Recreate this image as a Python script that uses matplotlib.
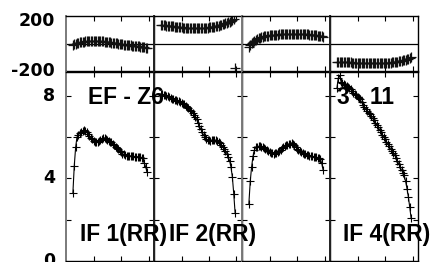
import matplotlib
matplotlib.use('Agg')
import matplotlib.pyplot as plt

# ---- data ----
chans = list(range(5, 60))

amp_if1 = [3.28, 4.59, 5.50, 6.00, 6.10,
           6.18, 6.24, 6.30, 6.33, 6.28,
           6.22, 6.15, 6.05, 5.97, 5.90,
           5.82, 5.78, 5.76, 5.75, 5.80,
           5.86, 5.90, 5.95, 5.96, 5.92,
           5.86, 5.82, 5.78, 5.74, 5.68,
           5.60, 5.54, 5.49, 5.42, 5.33,
           5.27, 5.20, 5.16, 5.13, 5.10,
           5.10, 5.08, 5.09, 5.07, 5.06,
           5.05, 5.05, 5.04, 5.02, 5.03,
           5.00, 4.98, 4.75, 4.53, 4.30]
amp_if2 = [8.08, 8.06, 8.04, 8.02, 8.00,
           7.98, 7.94, 7.90, 7.86, 7.84,
           7.80, 7.78, 7.76, 7.74, 7.70,
           7.65, 7.62, 7.58, 7.52, 7.46,
           7.40, 7.32, 7.25, 7.18, 7.08,
           6.98, 6.85, 6.68, 6.52, 6.38,
           6.24, 6.10, 5.98, 5.90, 5.86,
           5.84, 5.83, 5.85, 5.87, 5.86,
           5.84, 5.80, 5.75, 5.70, 5.62,
           5.52, 5.42, 5.32, 5.20, 5.05,
           4.85, 4.54, 4.06, 3.25, 2.31]
amp_if3 = [2.78, 3.86, 4.56, 5.07, 5.36,
           5.50, 5.53, 5.55, 5.56, 5.54,
           5.50, 5.46, 5.42, 5.37, 5.32,
           5.28, 5.24, 5.22, 5.20, 5.21,
           5.24, 5.28, 5.32, 5.38, 5.45,
           5.52, 5.57, 5.60, 5.63, 5.65,
           5.68, 5.72, 5.68, 5.60, 5.52,
           5.44, 5.36, 5.30, 5.26, 5.23,
           5.20, 5.18, 5.15, 5.12, 5.10,
           5.08, 5.06, 5.05, 5.04, 5.02,
           5.00, 4.97, 4.95, 4.72, 4.40]
amp_if4 = [8.35, 8.85, 8.98, 8.68, 8.60,
           8.56, 8.52, 8.49, 8.42, 8.36,
           8.30, 8.22, 8.14, 8.09, 8.02,
           7.95, 7.89, 7.82, 7.68, 7.55,
           7.44, 7.35, 7.26, 7.18, 7.10,
           7.00, 6.90, 6.80, 6.70, 6.58,
           6.48, 6.36, 6.25, 6.12, 6.00,
           5.90, 5.78, 5.68, 5.56, 5.42,
           5.33, 5.22, 5.12, 5.00, 4.85,
           4.70, 4.55, 4.40, 4.28, 4.14,
           3.85, 3.50, 3.10, 2.60, 2.06]

phase_if1 = [-9, -5, -2, 2, 6,
             10, 12, 14, 16, 17,
             19, 20, 21, 21, 22,
             22, 22, 22, 21, 21,
             20, 19, 18, 16, 15,
             13, 12, 10, 9, 7,
             5, 4, 2, 1, -1,
             -2, -4, -6, -7, -9,
             -10, -11, -12, -13, -14,
             -15, -16, -18, -19, -21,
             -23, -25, -27, -30, -33]
phase_if2 = [137, 135, 134, 132, 131,
             130, 129, 128, 126, 125,
             124, 123, 122, 120, 119,
             118, 117, 116, 115, 114,
             113, 112, 112, 111, 111,
             111, 111, 112, 112, 113,
             113, 114, 115, 116, 117,
             118, 119, 121, 122, 124,
             126, 128, 130, 133, 136,
             139, 143, 147, 151, 155,
             160, 165, 170, 176, -172]
phase_if3 = [-21, -8, 3, 13, 21,
             28, 34, 39, 44, 48,
             51, 54, 56, 58, 59,
             61, 62, 63, 64, 65,
             66, 66, 67, 68, 68,
             69, 69, 70, 70, 70,
             70, 70, 70, 70, 70,
             70, 69, 69, 69, 69,
             68, 68, 68, 67, 66,
             65, 64, 63, 62, 61,
             59, 58, 56, 54, 51]
phase_if4 = [-130, -131, -131, -132, -132,
             -133, -133, -134, -134, -135,
             -135, -136, -136, -137, -137,
             -138, -138, -138, -139, -139,
             -139, -140, -140, -140, -140,
             -141, -141, -141, -141, -141,
             -141, -141, -140, -140, -140,
             -139, -139, -138, -137, -136,
             -135, -134, -132, -131, -129,
             -127, -125, -122, -120, -117,
             -114, -111, -107, -103, -99]

x_ticks = [20, 40, 60]
phase_labels = [200, -200]
amp_ticks = [2, 4, 6, 8]
amp_labels = [8, 4, 0]
panel_titles = ['IF 1(RR)', 'IF 2(RR)', '', 'IF 4(RR)']
baseline_left = 'EF - Z6'
baseline_right = '3 - 11'

amps = [amp_if1, amp_if2, amp_if3, amp_if4]
phases = [phase_if1, phase_if2, phase_if3, phase_if4]

# ---- layout ----
W, H = 432, 262
fig = plt.figure(figsize=(W / 100, H / 100), dpi=100)


def fx(px):
    return px / W


def fy(py):
    return 1 - py / H


left_colors = ['#7a7a7a', '#222222', '#7a7a7a', '#222222']
tick_font = dict(family='DejaVu Sans', fontweight='bold', fontsize=12.5)
lab_font = dict(family='Liberation Sans', fontweight='bold', fontsize=16.4)

for i in range(4):
    x0 = 66 + 88 * i
    axp = fig.add_axes([fx(x0), fy(71.5), 88 / W, 55.5 / H])
    axa = fig.add_axes([fx(x0), fy(261), 88 / W, 189.5 / H])
    for ax in (axp, axa):
        ax.set_xlim(0, 64)
        ax.set_xticks(x_ticks)
        ax.tick_params(direction='in', length=3.5, width=0.8, top=True,
                       bottom=True, left=True, right=True,
                       labelbottom=False, labelleft=False)
        for s in ax.spines.values():
            s.set_linewidth(1.0)
            s.set_color('black')
        ax.spines['left'].set_color(left_colors[i])
        ax.spines['left'].set_linewidth(1.4)
        ax.patch.set_alpha(0)

    axp.set_ylim(-200, 200)
    axp.set_yticks([])
    axp.axhline(0, color='black', lw=0.9)
    axp.plot(chans, phases[i], linestyle='none', color='#111111',
             marker='+', ms=6.5, mew=0.9)

    axa.set_ylim(0, 9.17)
    axa.set_yticks(amp_ticks)
    axa.plot(chans, amps[i], color='black', lw=0.8,
             marker='+', ms=6, mew=0.8)

    if i == 0:
        for v in phase_labels:
            dy = -3.5 if v > 0 else 0
            axp.annotate(str(v), xy=(0, v), xycoords=('axes fraction', 'data'),
                         xytext=(-8, dy), textcoords='offset points',
                         ha='right', va='center', **tick_font)
        for v in amp_labels:
            axa.annotate(str(v), xy=(0, v), xycoords=('axes fraction', 'data'),
                         xytext=(-8, 0), textcoords='offset points',
                         ha='right', va='center', annotation_clip=False,
                         **tick_font)

title_x = [80.5, 169, 0, 343]
for i, t in enumerate(panel_titles):
    if t:
        fig.text(fx(title_x[i]), fy(241), t, ha='left', va='baseline',
                 **lab_font)

fig.text(fx(87.5), fy(104), baseline_left, ha='left', va='baseline', **lab_font)
fig.text(fx(337), fy(103.5), baseline_right, ha='left', va='baseline', **lab_font)

fig.savefig('out.png', dpi=100)
